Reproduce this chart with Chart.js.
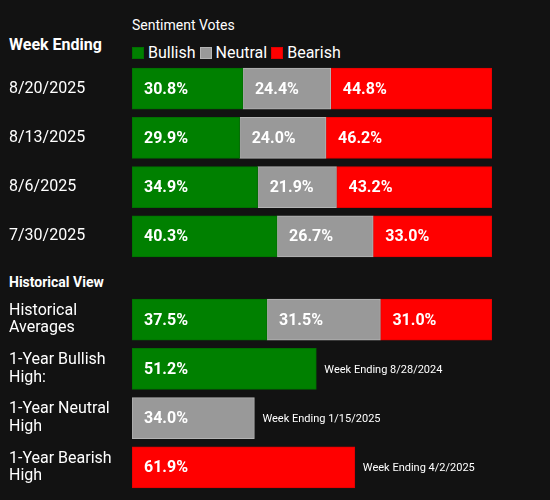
<!DOCTYPE html>
<html>
<head>
<meta charset="utf-8">
<script src="https://cdn.jsdelivr.net/npm/chart.js@4/dist/chart.umd.min.js"></script>
<style>
  html, body { margin: 0; padding: 0; background: #121212; }
  #wrap { position: relative; width: 550px; height: 500px; background: #121212; font-family: Roboto, "Noto Sans", sans-serif; color: #fff; overflow: hidden; }
  .abs { position: absolute; white-space: nowrap; }
  #c1wrap { position: absolute; left: 0; top: 64px; width: 550px; height: 197px; }
  #c2wrap { position: absolute; left: 0; top: 295px; width: 550px; height: 197px; }
  #legend { position: absolute; left: 132px; top: 43px; display: flex; align-items: center; font-size: 16px; }
  #legend .sw { width: 12px; height: 12px; margin-right: 4px; box-sizing: border-box; }
  #legend .lb { margin-right: 4px; }
</style>
</head>
<body>
<div id="wrap">
  <div class="abs" style="left:132px;top:17px;font-size:14px;">Sentiment Votes</div>
  <div class="abs" style="left:9px;top:35px;font-size:16px;font-weight:bold;">Week Ending</div>
  <div id="legend"></div>
  <div class="abs" style="left:9px;top:274px;font-size:14px;font-weight:bold;">Historical View</div>
  <div id="c1wrap"><canvas id="c1"></canvas></div>
  <div id="c2wrap"><canvas id="c2"></canvas></div>
</div>
<script>
// ---- data ----
const seriesNames = ['Bullish', 'Neutral', 'Bearish'];
const seriesColors = ['#008000', '#999999', '#ff0000'];
const seriesBorders = ['#007000', '#b4b4b4', '#e00000'];

const weekLabels = ['8/20/2025', '8/13/2025', '8/6/2025', '7/30/2025'];
const weekBullish = [30.8, 29.9, 34.9, 40.3];
const weekNeutral = [24.4, 24.0, 21.9, 26.7];
const weekBearish = [44.8, 46.2, 43.2, 33.0];

const histLabels = [['Historical', 'Averages'], ['1-Year Bullish', 'High:'], ['1-Year Neutral', 'High'], ['1-Year Bearish', 'High']];
const histBullish = [37.5, 51.2, null, null];
const histNeutral = [31.5, null, 34.0, null];
const histBearish = [31.0, null, null, 61.9];
const histNotes = ['', 'Week Ending 8/28/2024', 'Week Ending 1/15/2025', 'Week Ending 4/2/2025'];

// legend
const lg = document.getElementById('legend');
seriesNames.forEach((n, i) => {
  const sw = document.createElement('div');
  sw.className = 'sw';
  sw.style.background = seriesColors[i];
  sw.style.border = '1px solid ' + seriesBorders[i];
  const lb = document.createElement('div');
  lb.className = 'lb';
  lb.textContent = n;
  lg.appendChild(sw); lg.appendChild(lb);
});

const FONT = 'Roboto, "Noto Sans", sans-serif';

const labelPlugin = {
  id: 'barLabels',
  afterDatasetsDraw(chart, args, opts) {
    const ctx = chart.ctx;
    ctx.save();
    ctx.textBaseline = 'middle';
    ctx.textAlign = 'left';
    chart.data.datasets.forEach((ds, di) => {
      const meta = chart.getDatasetMeta(di);
      meta.data.forEach((bar, i) => {
        const v = ds.data[i];
        if (v === null || v === undefined) return;
        const p = bar.getProps(['x', 'y', 'base'], true);
        ctx.fillStyle = '#ffffff';
        ctx.font = 'bold 16px ' + FONT;
        ctx.fillText(v.toFixed(1) + '%', p.base + 12, p.y + 1);
      });
    });
    const notes = opts && opts.notes;
    if (notes) {
      ctx.font = '11px ' + FONT;
      ctx.fillStyle = '#ffffff';
      notes.forEach((t, i) => {
        if (!t) return;
        let maxX = -Infinity, y = 0;
        chart.data.datasets.forEach((ds, di) => {
          const v = ds.data[i];
          if (v === null || v === undefined) return;
          const bar = chart.getDatasetMeta(di).data[i];
          const p = bar.getProps(['x', 'y'], true);
          if (p.x > maxX) { maxX = p.x; y = p.y; }
        });
        ctx.fillText(t, maxX + 8, y + 1);
      });
    }
    ctx.restore();
  }
};

function makeChart(id, labels, b, n, r, notes) {
  const data = [b, n, r];
  return new Chart(document.getElementById(id), {
    type: 'bar',
    data: {
      labels: labels,
      datasets: seriesNames.map((name, i) => ({
        label: name,
        data: data[i],
        backgroundColor: seriesColors[i],
        borderColor: seriesBorders[i],
        borderWidth: 1,
        borderSkipped: false,
        barThickness: 41
      }))
    },
    options: {
      indexAxis: 'y',
      responsive: true,
      maintainAspectRatio: false,
      animation: false,
      layout: { padding: { left: 9, right: 58, top: 0, bottom: 0 } },
      plugins: {
        legend: { display: false },
        tooltip: { enabled: false },
        barLabels: { notes: notes }
      },
      scales: {
        x: { stacked: true, min: 0, max: 100, display: false },
        y: {
          stacked: true,
          grid: { display: false, drawTicks: false },
          border: { display: false },
          ticks: {
            color: '#ffffff',
            crossAlign: 'far',
            padding: 0,
            font: { family: FONT, size: 16, lineHeight: 1.1 }
          },
          afterFit(scale) { scale.width = 123; scale.paddingTop = 0; scale.paddingBottom = 0; }
        }
      }
    },
    plugins: [labelPlugin]
  });
}

makeChart('c1', weekLabels, weekBullish, weekNeutral, weekBearish, null);
makeChart('c2', histLabels, histBullish, histNeutral, histBearish, histNotes);
</script>
</body>
</html>
